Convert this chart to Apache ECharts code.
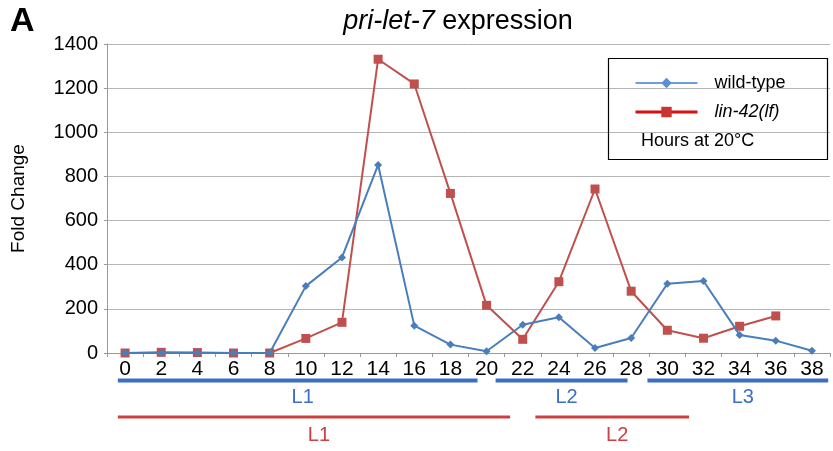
<!DOCTYPE html>
<html>
<head>
<meta charset="utf-8">
<script src="https://cdn.jsdelivr.net/npm/echarts@6/dist/echarts.min.js"></script>
<style>
  html, body { margin: 0; padding: 0; background: #fff; }
  #chart { width: 833px; height: 451px; }
</style>
</head>
<body>
<div id="chart"></div>
<script>
// Hours at 20°C
const hours = ['0','2','4','6','8','10','12','14','16','18','20','22','24','26','28','30','32','34','36','38'];
// pri-let-7 fold change
const wildType = [0, 0, 0, 0, 0, 303, 433, 852, 124, 38, 8, 128, 162, 23, 68, 314, 326, 82, 56, 10];
const lin42 = [0, 3, 2, 0, 0, 66, 139, 1331, 1219, 723, 216, 62, 323, 743, 280, 103, 67, 121, 168, null];
const yTicks = { min: 0, max: 1400, interval: 200 };

// Larval stage spans in hours (start, end)
const wtStageNames = ['L1', 'L2', 'L3'];
const wtStageStart = [-0.4, 20.5, 28.9];
const wtStageEnd = [19.5, 27.8, 38.9];
const lfStageNames = ['L1', 'L2'];
const lfStageStart = [-0.4, 22.7];
const lfStageEnd = [21.3, 31.2];

const BLUE = '#4A7EBB';
const RED = '#C0504D';
const FONT = 'Liberation Sans, Arial, sans-serif';

const chart = echarts.init(document.getElementById('chart'));

chart.setOption({
  animation: false,
  backgroundColor: '#fff',
  textStyle: { fontFamily: FONT },
  title: {
    text: '{i|pri-let-7} expression',
    left: 453,
    textAlign: 'center',
    top: 3,
    textStyle: {
      fontFamily: FONT, fontSize: 27, fontWeight: 'normal', color: '#000',
      rich: { i: { fontFamily: FONT, fontSize: 27, fontStyle: 'italic', color: '#000' } }
    }
  },
  grid: { left: 107, right: 3, top: 44, bottom: 98, containLabel: false },
  legend: {
    orient: 'vertical',
    left: 634,
    top: 74,
    padding: 0,
    itemWidth: 62,
    itemHeight: 13,
    itemGap: 11,
    selectedMode: false,
    textStyle: {
      fontFamily: FONT, fontSize: 18, color: '#000', padding: [0, 0, 0, 12],
      rich: { i: { fontFamily: FONT, fontSize: 18, fontStyle: 'italic', color: '#000' } }
    },
    formatter: function (name) { return name === 'lin-42(lf)' ? '{i|' + name + '}' : name; },
    data: [
      { name: 'wild-type', itemStyle: { color: '#5b8fd6' }, lineStyle: { color: '#6f9ede', width: 2 } },
      { name: 'lin-42(lf)', itemStyle: { color: '#cc3333' }, lineStyle: { color: '#d41010', width: 3 } }
    ]
  },
  xAxis: {
    type: 'category',
    data: hours,
    boundaryGap: true,
    axisLine: { lineStyle: { color: '#999', width: 1 } },
    axisTick: { show: true, length: 4, lineStyle: { color: '#999' } },
    axisLabel: { color: '#000', fontSize: 21, fontFamily: FONT, margin: 6, interval: 0 }
  },
  yAxis: {
    type: 'value',
    min: yTicks.min,
    max: yTicks.max,
    interval: yTicks.interval,
    name: 'Fold Change',
    nameLocation: 'middle',
    nameGap: 79,
    nameTextStyle: { color: '#000', fontSize: 19, fontFamily: FONT },
    axisLine: { show: true, lineStyle: { color: '#999' } },
    axisTick: { show: true, length: 3, lineStyle: { color: '#999' } },
    axisLabel: { color: '#000', fontSize: 20, fontFamily: FONT, margin: 9, formatter: function (v) { return String(v); } },
    splitLine: { lineStyle: { color: '#b5b5b5', width: 1 } }
  },
  series: [
    {
      name: 'wild-type',
      type: 'line',
      data: wildType,
      symbol: 'diamond',
      symbolSize: 8,
      lineStyle: { color: BLUE, width: 2 },
      itemStyle: { color: BLUE },
      z: 3
    },
    {
      name: 'lin-42(lf)',
      type: 'line',
      data: lin42,
      symbol: 'rect',
      symbolSize: 9,
      lineStyle: { color: RED, width: 2 },
      itemStyle: { color: RED },
      z: 2
    }
  ]
});

// Pixel x for a time in hours, using the category axis spacing (one category = 2 h)
const x0 = chart.convertToPixel({ xAxisIndex: 0 }, 0);
const x1 = chart.convertToPixel({ xAxisIndex: 0 }, 1);
function hourToX(h) { return x0 + (h / 2) * (x1 - x0); }

const graphics = [
  { type: 'text', left: 10, top: 5, style: { text: 'A', font: 'bold 34px ' + FONT, fill: '#000' } },
  // legend frame and caption
  { type: 'rect', shape: { x: 608.5, y: 58.5, width: 219, height: 101 }, style: { fill: 'none', stroke: '#000', lineWidth: 1.2 }, z: 10 },
  { type: 'text', x: 641, y: 141, style: { text: 'Hours at 20°C', font: '18px ' + FONT, fill: '#000', textVerticalAlign: 'middle' }, z: 10 }
];

function addStages(names, starts, ends, y, labelY, color, width) {
  names.forEach(function (n, i) {
    const a = hourToX(starts[i]);
    const b = hourToX(ends[i]);
    graphics.push({ type: 'line', shape: { x1: a, y1: y, x2: b, y2: y }, style: { stroke: color, lineWidth: width } });
    graphics.push({ type: 'text', x: (a + b) / 2 + 5, y: labelY, style: { text: n, font: '20px ' + FONT, fill: color, textAlign: 'center', textVerticalAlign: 'middle' } });
  });
}
addStages(wtStageNames, wtStageStart, wtStageEnd, 380.5, 397, '#3b6fc6', 4);
addStages(lfStageNames, lfStageStart, lfStageEnd, 417, 435, '#cc4040', 3);

chart.setOption({ graphic: graphics });
</script>
</body>
</html>
